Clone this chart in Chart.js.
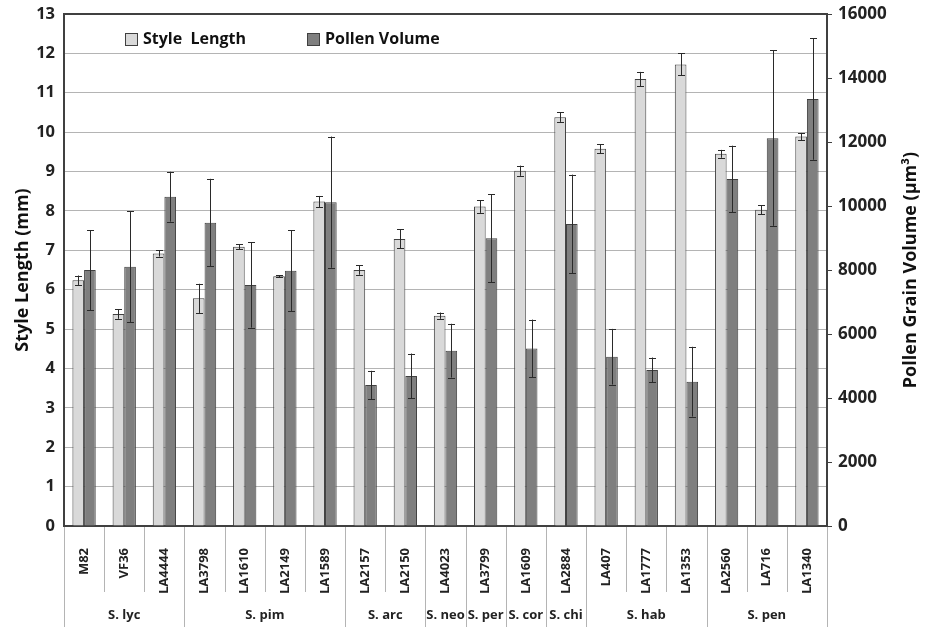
<!DOCTYPE html>
<html><head><meta charset="utf-8">
<script src="https://cdn.jsdelivr.net/npm/chart.js@4.4.0/dist/chart.umd.min.js"></script>
<style>html,body{margin:0;padding:0;background:#fff;}#wrap{width:935px;height:627px;}</style>
</head><body><div id="wrap"><canvas id="c" width="935" height="627"></canvas></div>
<script>
const accessions = ['M82','VF36','LA4444','LA3798','LA1610','LA2149','LA1589','LA2157','LA2150','LA4023','LA3799','LA1609','LA2884','LA407','LA1777','LA1353','LA2560','LA716','LA1340'];
const speciesGroups = ['S. lyc','S. pim','S. arc','S. neo','S. per','S. cor','S. chi','S. hab','S. pen'];
const speciesCounts = [3,4,2,1,1,1,1,3,3];
const styleLength = [6.24,5.38,6.92,5.78,7.09,6.34,8.24,6.50,7.29,5.34,8.11,9.02,10.38,9.58,11.35,11.72,9.45,8.03,9.89];
const styleLengthErr = [0.12,0.12,0.08,0.37,0.06,0.03,0.14,0.12,0.24,0.08,0.16,0.13,0.12,0.11,0.18,0.28,0.10,0.12,0.09];
const pollenVolume = [8000,8100,10290,9480,7530,7980,10120,4410,4690,5480,8990,5550,9440,5290,4875,4510,10845,12120,13345];
const pollenVolumeErr = [1250,1730,780,1370,1330,1270,2050,440,700,840,1380,900,1540,870,390,1090,1040,2740,1900];
const styleTicks = [0,1,2,3,4,5,6,7,8,9,10,11,12,13];
const pollenTicks = [0,2000,4000,6000,8000,10000,12000,14000,16000];
const leftTitle = 'Style Length (mm)';
const rightTitle = 'Pollen Grain Volume (\u00B5m\u00B3)';

const FONT = '"Open Sans", "DejaVu Sans", sans-serif';
const DARK = '#404040';
const GRID = '#b4b4b4';

const errorBars = {
  id: 'errorBars',
  afterDatasetsDraw(chart) {
    const ctx = chart.ctx;
    ctx.save();
    ctx.strokeStyle = '#2a2a2a';
    ctx.lineWidth = 1;
    chart.data.datasets.forEach((ds, di) => {
      const meta = chart.getDatasetMeta(di);
      const sc = chart.scales[ds.yAxisID];
      meta.data.forEach((bar, i) => {
        const v = ds.data[i], e = ds.errors[i];
        const x = Math.round(bar.x) + 0.5;
        const yt = sc.getPixelForValue(v + e), yb = sc.getPixelForValue(v - e);
        ctx.beginPath();
        ctx.moveTo(x, yt); ctx.lineTo(x, yb);
        ctx.moveTo(x - 3.5, Math.round(yt) + 0.5); ctx.lineTo(x + 3.5, Math.round(yt) + 0.5);
        ctx.moveTo(x - 3.5, Math.round(yb) + 0.5); ctx.lineTo(x + 3.5, Math.round(yb) + 0.5);
        ctx.stroke();
      });
    });
    ctx.restore();
  }
};

const decorations = {
  id: 'decorations',
  afterDraw(chart) {
    const ctx = chart.ctx;
    const xs = chart.scales.x;
    const n = accessions.length;
    const step = (xs.right - xs.left) / n;
    const bounds = new Set([0]);
    let acc = 0;
    speciesCounts.forEach(c => { acc += c; bounds.add(acc); });
    ctx.save();
    ctx.strokeStyle = GRID;
    ctx.lineWidth = 1;
    for (let i = 0; i <= n; i++) {
      const x = Math.round(xs.left + i * step) + 0.5;
      const y2 = bounds.has(i) ? chart.height : xs.top + 66;
      ctx.beginPath();
      ctx.moveTo(x, xs.top + 1);
      ctx.lineTo(x, y2);
      ctx.stroke();
    }
    ctx.fillStyle = '#222';
    ctx.font = 'bold 13px ' + FONT;
    ctx.textAlign = 'center';
    ctx.textBaseline = 'middle';
    let start = 0;
    speciesGroups.forEach((g, gi) => {
      const end = start + speciesCounts[gi];
      const cx = xs.left + (start + end) / 2 * step;
      ctx.fillText(g, cx, xs.top + 89);
      start = end;
    });
    const y1 = chart.scales.y1;
    ctx.save();
    ctx.translate(y1.right - 24, (y1.top + y1.bottom) / 2);
    ctx.rotate(-Math.PI / 2);
    ctx.font = 'bold 18px ' + FONT;
    ctx.fillStyle = '#111';
    ctx.fillText(rightTitle, 0, 0);
    ctx.restore();
    const ca = chart.chartArea;
    const offsets = [61, 243];
    ctx.font = 'bold 16px ' + FONT;
    ctx.textAlign = 'left';
    chart.data.datasets.forEach((ds, di) => {
      const bx = ca.left + offsets[di];
      const by = ca.top + 19;
      ctx.fillStyle = ds.backgroundColor;
      ctx.fillRect(bx, by, 12, 12);
      ctx.strokeStyle = DARK;
      ctx.strokeRect(bx + 0.5, by + 0.5, 12, 12);
      ctx.fillStyle = '#111';
      ctx.fillText(ds.label, bx + 18, by + 6.5);
    });
    ctx.restore();
  }
};

new Chart(document.getElementById('c'), {
  type: 'bar',
  data: {
    labels: accessions,
    datasets: [
      { label: 'Style  Length', data: styleLength, errors: styleLengthErr, yAxisID: 'y',
        backgroundColor: '#d9d9d9', borderColor: DARK, borderWidth: 1,
        categoryPercentage: 0.58, barPercentage: 1.0 },
      { label: 'Pollen Volume', data: pollenVolume, errors: pollenVolumeErr, yAxisID: 'y1',
        backgroundColor: '#7f7f7f', borderColor: DARK, borderWidth: 1,
        categoryPercentage: 0.58, barPercentage: 1.0 }
    ]
  },
  options: {
    responsive: false,
    animation: false,
    devicePixelRatio: 1,
    layout: { padding: { top: 14, left: 0, right: 0, bottom: 0 } },
    plugins: { legend: { display: false }, tooltip: { enabled: false } },
    scales: {
      x: {
        type: 'category',
        position: 'bottom',
        grid: { display: false },
        border: { display: true, color: DARK, width: 2 },
        ticks: { autoSkip: false, minRotation: 90, maxRotation: 90, padding: 14,
          color: '#222', font: { family: FONT, size: 13, weight: 'bold' } },
        afterFit(s) { s.height = 101; s.paddingLeft = 0; s.paddingRight = 0; }
      },
      y: {
        position: 'left',
        min: 0, max: 13,
        afterBuildTicks(s) { s.ticks = styleTicks.map(v => ({ value: v })); },
        grid: {
          drawTicks: false,
          color: c => (c.tick && c.tick.value === 13) ? DARK : GRID,
          lineWidth: c => (c.tick && c.tick.value === 13) ? 2 : 1
        },
        border: { display: true, color: DARK, width: 2 },
        ticks: { padding: 9, color: '#222', font: { family: FONT, size: 16.5, weight: 'bold' },
          callback: v => String(v) },
        title: { display: true, text: leftTitle, color: '#111', padding: { top: 12, bottom: 0 },
          font: { family: FONT, size: 18, weight: 'bold' } },
        afterFit(s) { s.width = 64; s.paddingTop = 0; s.paddingBottom = 0; }
      },
      y1: {
        position: 'right',
        min: 0, max: 16000,
        afterBuildTicks(s) { s.ticks = pollenTicks.map(v => ({ value: v })); },
        grid: { drawOnChartArea: false, drawTicks: true, tickLength: 5, color: DARK },
        border: { display: true, color: DARK, width: 2 },
        ticks: { padding: 6, color: '#222', font: { family: FONT, size: 17, weight: 'bold' },
          callback: v => String(v) },
        afterFit(s) { s.width = 108; s.paddingTop = 0; s.paddingBottom = 0; }
      }
    }
  },
  plugins: [errorBars, decorations]
});
</script>
</body></html>
